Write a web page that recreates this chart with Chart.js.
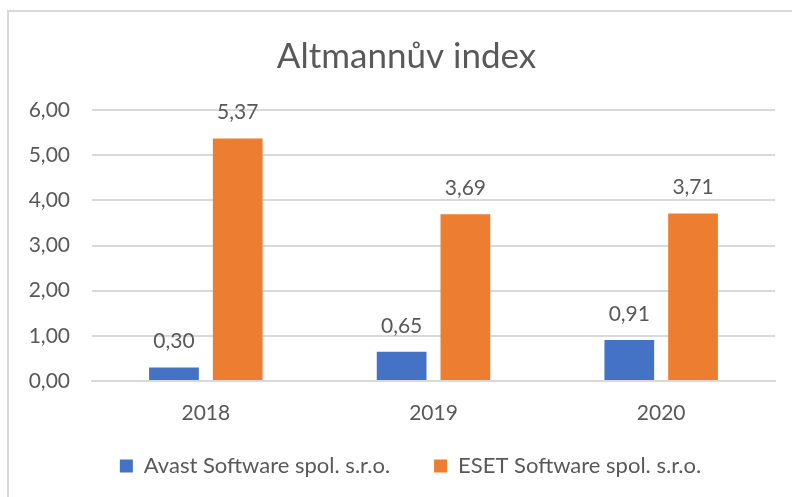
<!DOCTYPE html>
<html lang="cs">
<head>
    <meta charset="UTF-8">
    <title>Altmannův index</title>
    <style>
        body {
            margin: 0;
            padding: 0;
            background-color: white;
        }

        .chart-box {
            position: relative;
            width: 792px;
            height: 497px;
        }
    </style>
    <script src="https://cdn.jsdelivr.net/npm/chart.js"></script>
</head>
<body>
    <div class="chart-box">
        <canvas id="altmanChart" width="792" height="497"></canvas>
    </div>

    <script>
        const years = ['2018', '2019', '2020'];
        const avastValues = [0.30, 0.65, 0.91];
        const esetValues = [5.37, 3.69, 3.71];
        const seriesNames = ['Avast Software spol. s.r.o.', 'ESET Software spol. s.r.o.'];

        const textColor = '#595959';
        const gridColor = '#d9d9d9';
        const fontFamily = 'Lato, "Open Sans", sans-serif';

        function czNumber(v) {
            return v.toFixed(2).replace('.', ',');
        }

        // frame around the whole chart, like the Excel chart border
        const frame = {
            id: 'frame',
            beforeDraw(chart) {
                const ctx = chart.ctx;
                ctx.save();
                ctx.strokeStyle = gridColor;
                ctx.lineWidth = 2;
                ctx.strokeRect(8, 11, 800, 500);
                ctx.restore();
            }
        };

        // value labels above each bar
        const valueLabels = {
            id: 'valueLabels',
            afterDatasetsDraw(chart) {
                const ctx = chart.ctx;
                ctx.save();
                ctx.font = '21px ' + fontFamily;
                ctx.fillStyle = textColor;
                ctx.textAlign = 'center';
                ctx.textBaseline = 'alphabetic';
                chart.data.datasets.forEach((ds, i) => {
                    chart.getDatasetMeta(i).data.forEach((bar, j) => {
                        ctx.fillText(czNumber(ds.data[j]), bar.x, bar.y - 19);
                    });
                });
                ctx.restore();
            }
        };

        // legend needs wide gaps between items but not the tall box that comes with them;
        // title and legend are centred on the frame, not on the canvas
        const boxTweaks = {
            id: 'boxTweaks',
            afterInit(chart) {
                const lg = chart.legend;
                const fit = lg.fit;
                lg.fit = function () {
                    fit.call(this);
                    this.height = 70;
                };
            },
            afterLayout(chart) {
                const lg = chart.legend;
                lg.top -= 16;
                lg.bottom -= 16;
                lg.left += 23;
                lg.right += 23;
                const tb = chart.titleBlock;
                tb.left += 19;
                tb.right += 19;
            }
        };

        const ctx = document.getElementById('altmanChart').getContext('2d');
        new Chart(ctx, {
            type: 'bar',
            data: {
                labels: years,
                datasets: [{
                    label: seriesNames[0],
                    data: avastValues,
                    backgroundColor: '#4472C4'
                }, {
                    label: seriesNames[1],
                    data: esetValues,
                    backgroundColor: '#ED7D31'
                }]
            },
            options: {
                responsive: false,
                animation: false,
                categoryPercentage: 0.56,
                barPercentage: 0.78,
                layout: {
                    padding: { left: 0, right: 17, top: 0, bottom: 0 }
                },
                plugins: {
                    title: {
                        display: true,
                        text: 'Altmannův index',
                        color: textColor,
                        font: { family: fontFamily, size: 35, weight: 'normal' },
                        padding: { top: 36, bottom: 32 }
                    },
                    legend: {
                        position: 'bottom',
                        labels: {
                            color: textColor,
                            font: { family: fontFamily, size: 22 },
                            boxWidth: 13,
                            boxHeight: 13,
                            padding: 44
                        }
                    },
                    tooltip: { enabled: false }
                },
                scales: {
                    x: {
                        grid: { display: false, drawTicks: false },
                        border: { color: gridColor, width: 2 },
                        ticks: {
                            color: textColor,
                            font: { family: fontFamily, size: 21 },
                            padding: 20
                        },
                        afterFit(scale) {
                            scale.height = 46;
                        }
                    },
                    y: {
                        min: 0,
                        max: 6,
                        grid: { color: gridColor, lineWidth: 2, drawTicks: false },
                        border: { display: false },
                        ticks: {
                            stepSize: 1,
                            color: textColor,
                            font: { family: fontFamily, size: 21 },
                            padding: 22,
                            callback: v => czNumber(v)
                        },
                        afterFit(scale) {
                            scale.width = 92;
                        }
                    }
                }
            },
            plugins: [frame, valueLabels, boxTweaks]
        });
    </script>
</body>
</html>
